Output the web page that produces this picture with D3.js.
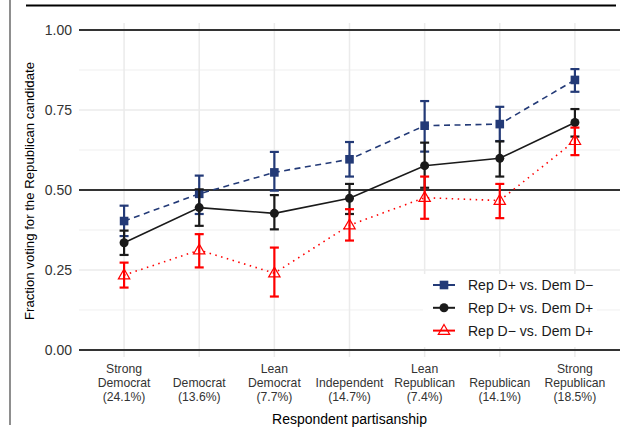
<!DOCTYPE html>
<html><head><meta charset="utf-8">
<script src="https://cdn.jsdelivr.net/npm/d3@7"></script>
<style>body{margin:0;background:#fff}svg{display:block}text{font-family:"Liberation Sans",Arial,sans-serif}</style>
</head><body><svg id="c" width="629" height="431"></svg>
<script>
const categories = ["Strong\nDemocrat\n(24.1%)","Democrat\n(13.6%)","Lean\nDemocrat\n(7.7%)","Independent\n(14.7%)","Lean\nRepublican\n(7.4%)","Republican\n(14.1%)","Strong\nRepublican\n(18.5%)"];
const seriesNames = ["Rep D+ vs. Dem D\u2212","Rep D+ vs. Dem D+","Rep D\u2212 vs. Dem D+"];
const blueMean = [0.403,0.488,0.555,0.596,0.701,0.706,0.844];
const blueLo   = [0.356,0.425,0.498,0.542,0.620,0.653,0.807];
const blueHi   = [0.451,0.545,0.619,0.650,0.778,0.760,0.878];
const blackMean= [0.335,0.445,0.427,0.474,0.576,0.599,0.711];
const blackLo  = [0.297,0.388,0.377,0.425,0.507,0.542,0.667];
const blackHi  = [0.373,0.502,0.484,0.519,0.648,0.652,0.753];
const redMean  = [0.234,0.312,0.240,0.390,0.476,0.467,0.654];
const redLo    = [0.195,0.258,0.167,0.342,0.410,0.412,0.609];
const redHi    = [0.273,0.362,0.320,0.440,0.542,0.519,0.695];
const yTicks = [0,0.25,0.5,0.75,1];
const yMinor = [0.125,0.375,0.625,0.875];
const refLines = [0,0.5,1];

const svg = d3.select("#c");
const x = d3.scalePoint().domain(categories).range([79,620]).padding(0.6);
const y = d3.scaleLinear().domain([-0.022,1.022]).range([357,23]);

// frame artifacts
svg.append("line").attr("x1",10).attr("x2",10).attr("y1",0).attr("y2",425).attr("stroke","#444").attr("stroke-width",1.2);
svg.append("line").attr("x1",26).attr("x2",616).attr("y1",5.5).attr("y2",5.5).attr("stroke","#000").attr("stroke-width",2);

const g = svg.append("g");
// grid
g.selectAll(".gmin").data(yMinor).join("line").attr("x1",79).attr("x2",620).attr("y1",d=>y(d)).attr("y2",d=>y(d)).attr("stroke","#ebebeb").attr("stroke-width",0.8);
g.selectAll(".gmaj").data(yTicks).join("line").attr("x1",79).attr("x2",620).attr("y1",d=>y(d)).attr("y2",d=>y(d)).attr("stroke","#ebebeb").attr("stroke-width",1.5);
g.selectAll(".gx").data(categories).join("line").attr("x1",d=>x(d)).attr("x2",d=>x(d)).attr("y1",23).attr("y2",357).attr("stroke","#ebebeb").attr("stroke-width",1.5);
// reference lines
g.selectAll(".ref").data(refLines).join("line").attr("x1",79).attr("x2",620).attr("y1",d=>y(d)).attr("y2",d=>y(d)).attr("stroke","#333").attr("stroke-width",2);

// y axis labels
g.selectAll(".yl").data(yTicks).join("text").attr("x",72).attr("y",d=>y(d)).attr("dy","0.35em").attr("text-anchor","end").attr("font-size",14).attr("fill","#333").text(d=>d3.format(".2f")(d));
// x axis labels
categories.forEach(c=>{
  const lines=c.split("\n");
  const t=g.append("text").attr("text-anchor","middle").attr("font-size",12.2).attr("fill","#333");
  lines.forEach((l,i)=>{
    t.append("tspan").attr("x",x(c)).attr("y",401-(lines.length-1-i)*14.2).text(l);
  });
});
svg.append("text").attr("x",349.5).attr("y",424).attr("text-anchor","middle").attr("font-size",14).attr("fill","#000").text("Respondent partisanship");
svg.append("text").attr("transform","translate(34,191) rotate(-90)").attr("text-anchor","middle").attr("font-size",13.2).attr("fill","#000").text("Fraction voting for the Republican candidate");

const series = [
  {name:seriesNames[0],mean:blueMean,lo:blueLo,hi:blueHi,color:"#233a77",dash:"6,4.5",sym:"square"},
  {name:seriesNames[1],mean:blackMean,lo:blackLo,hi:blackHi,color:"#1a1a1a",dash:null,sym:"circle"},
  {name:seriesNames[2],mean:redMean,lo:redLo,hi:redHi,color:"#ff0000",dash:"1.5,4.5",sym:"triangle"}
];
const line = d3.line().x((d,i)=>x(categories[i])).y(d=>y(d));
function drawSym(sel,s,cx,cy){
  if(s.sym==="square") sel.append("rect").attr("x",cx-4.3).attr("y",cy-4.3).attr("width",8.6).attr("height",8.6).attr("fill",s.color);
  else if(s.sym==="circle") sel.append("circle").attr("cx",cx).attr("cy",cy).attr("r",4.5).attr("fill",s.color);
  else sel.append("path").attr("d",d3.symbol(d3.symbolTriangle,56)()).attr("transform",`translate(${cx},${cy+0.5})`).attr("fill","none").attr("stroke",s.color).attr("stroke-width",1.2);
}
series.forEach(s=>{
  const sg=g.append("g");
  sg.append("path").attr("d",line(s.mean)).attr("fill","none").attr("stroke",s.color).attr("stroke-width",1.6).attr("stroke-dasharray",s.dash);
  s.mean.forEach((m,i)=>{
    const cx=x(categories[i]);
    sg.append("line").attr("x1",cx).attr("x2",cx).attr("y1",y(s.lo[i])).attr("y2",y(s.hi[i])).attr("stroke",s.color).attr("stroke-width",2.2);
    [s.lo[i],s.hi[i]].forEach(v=>sg.append("line").attr("x1",cx-4.5).attr("x2",cx+4.5).attr("y1",y(v)).attr("y2",y(v)).attr("stroke",s.color).attr("stroke-width",2.2));
  });
  s.mean.forEach((m,i)=>drawSym(sg,s,x(categories[i]),y(m)));
});

// legend
const lg=svg.append("g");
lg.append("rect").attr("x",423).attr("y",274).attr("width",174).attr("height",73).attr("fill","#fff");
series.forEach((s,i)=>{
  const cy=285+i*22.8;
  lg.append("line").attr("x1",433).attr("x2",455).attr("y1",cy).attr("y2",cy).attr("stroke",s.color).attr("stroke-width",2);
  drawSym(lg,s,444,cy);
  lg.append("text").attr("x",468).attr("y",cy).attr("dy","0.35em").attr("font-size",14).attr("fill","#1a1a1a").text(s.name);
});
</script></body></html>
